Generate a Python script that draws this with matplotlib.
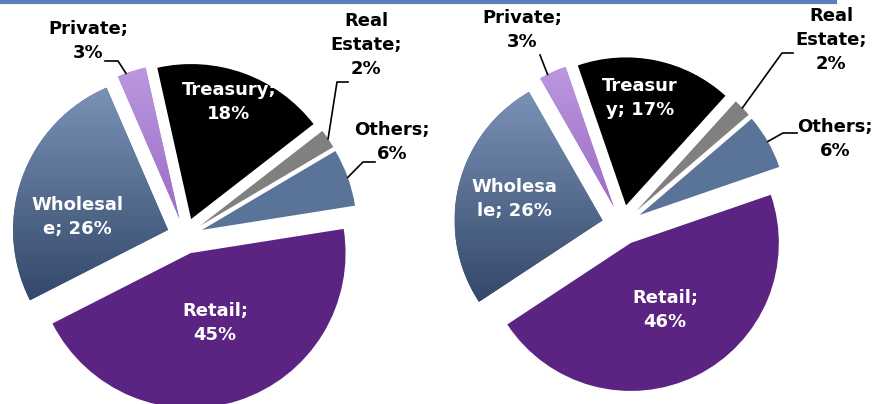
import numpy as np
import matplotlib.pyplot as plt
from matplotlib.colors import LinearSegmentedColormap

W, H = 876, 404

# slices go counter-clockwise, starting at the right
categories = ["Others", "Real Estate", "Treasury", "Private", "Wholesale", "Retail"]
shares_left = [6, 2, 18, 3, 26, 45]
shares_right = [6, 2, 17, 3, 26, 46]
labels_left = ["Others;\n6%", "Real\nEstate;\n2%", "Treasury;\n18%",
               "Private;\n3%", "Wholesal\ne; 26%", "Retail;\n45%"]
labels_right = ["Others;\n6%", "Real\nEstate;\n2%", "Treasur\ny; 17%",
                "Private;\n3%", "Wholesa\nle; 26%", "Retail;\n46%"]

# solid colours, gradients (top, bottom) for the shaded slices
colors = ["#5a7399", "#808080", "#000000", "#b18bd6", "#4a6187", "#5c2482"]
gradients = {"Wholesale": ("#7a92b6", "#33486a"), "Private": ("#bb98df", "#9c6cc4")}
inside = {"Treasury", "Wholesale", "Retail"}

FONT = dict(family="DejaVu Sans", fontweight="bold", fontsize=13)


def fill_gradient(ax, wedge, top, bottom):
    ext = wedge.get_path().get_extents()
    cmap = LinearSegmentedColormap.from_list("g", [top, bottom])
    grad = np.linspace(0, 1, 256)[:, None]
    im = ax.imshow(grad, cmap=cmap, extent=(ext.x0, ext.x1, ext.y0, ext.y1),
                   origin="upper", aspect="auto", zorder=wedge.get_zorder() + 0.1,
                   interpolation="bilinear")
    im.set_clip_path(wedge)


def wedge_point(wedge, t=0.5, rf=1.0):
    ang = np.deg2rad(wedge.theta1 + t * (wedge.theta2 - wedge.theta1))
    cx, cy = wedge.center
    return cx + rf * wedge.r * np.cos(ang), cy + rf * wedge.r * np.sin(ang)


def draw_pie(ax, shares, labels, center, radius, explode, start, text_pos, leaders):
    wedges, _ = ax.pie(shares, colors=colors, startangle=start, counterclock=True,
                       radius=radius, center=center, explode=[explode] * len(shares),
                       wedgeprops=dict(linewidth=0))
    for w, cat, lab in zip(wedges, categories, labels):
        if cat in gradients:
            fill_gradient(ax, w, *gradients[cat])
        tx, ty = text_pos[cat]
        col = "white" if cat in inside else "black"
        ax.text(tx, H - ty, lab, color=col, ha="center", va="center",
                multialignment="center", linespacing=1.4, zorder=5, **FONT)
        if cat in leaders:
            pts, t = leaders[cat]
            ex, ey = wedge_point(w, t)
            xs = [p[0] for p in pts] + [ex]
            ys = [H - p[1] for p in pts] + [ey]
            ax.plot(xs, ys, color="black", lw=1.2, zorder=5)
    return wedges


fig = plt.figure(figsize=(W / 100, H / 100), dpi=100)
ax = fig.add_axes([0, 0, 1, 1])

draw_pie(ax, shares_left, labels_left, center=(185, H - 236), radius=155,
         explode=18, start=9,
         text_pos={"Private": (88, 41), "Real Estate": (366, 45), "Others": (392, 142),
                   "Treasury": (229, 102), "Wholesale": (77, 217), "Retail": (215, 323)},
         leaders={"Private": ([(105, 61), (118, 61)], 0.7),
                  "Real Estate": ([(348, 82), (337, 82)], 0.5),
                  "Others": ([(375, 162), (363, 162)], 0.5)})

draw_pie(ax, shares_right, labels_right, center=(622, H - 225), radius=148,
         explode=20, start=19,
         text_pos={"Private": (522, 30), "Real Estate": (831, 40), "Others": (835, 139),
                   "Treasury": (640, 98), "Wholesale": (514, 199), "Retail": (665, 310)},
         leaders={"Private": ([(540, 55)], 0.7),
                  "Real Estate": ([(793, 53), (782, 53)], 0.5),
                  "Others": ([(797, 133), (783, 133)], 0.5)})

# thin blue rule along the top edge
ax.axhline(H - 1.5, xmin=0, xmax=835 / W, color="#5b7fb5", lw=3, zorder=6)

ax.set_xlim(0, W)
ax.set_ylim(0, H)
ax.set_aspect("equal")
ax.axis("off")

fig.savefig("out.png", dpi=100)
